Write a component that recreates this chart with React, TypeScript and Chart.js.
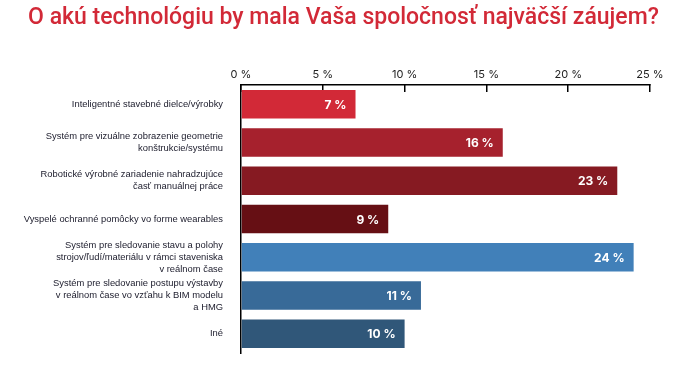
import React, { useEffect, useRef } from "react";
import { Chart, registerables } from "chart.js";

Chart.register(...registerables);

const titleText = "O akú technológiu by mala Vaša spoločnosť najväčší záujem?";
const categories: string[][] = [
  ["Inteligentné stavebné dielce/výrobky"],
  ["Systém pre vizuálne zobrazenie geometrie", "konštrukcie/systému"],
  ["Robotické výrobné zariadenie nahradzujúce", "časť manuálnej práce"],
  ["Vyspelé ochranné pomôcky vo forme wearables"],
  ["Systém pre sledovanie stavu a polohy", "strojov/ľudí/materiálu v rámci staveniska", "v reálnom čase"],
  ["Systém pre sledovanie postupu výstavby", "v reálnom čase vo vzťahu k BIM modelu", "a HMG"],
  ["Iné"],
];
const values = [7, 16, 23, 9, 24, 11, 10];
const barColors = ["#d22937", "#a6212d", "#861a22", "#660f14", "#4180b9", "#386a98", "#305779"];
const axisMax = 25;
const tickStep = 5;

const valueLabels = {
  id: "valueLabels",
  afterDatasetsDraw(chart: any) {
    const ctx = chart.ctx;
    const meta = chart.getDatasetMeta(0);
    ctx.save();
    ctx.fillStyle = "#ffffff";
    ctx.font = "700 12px Inter, 'Liberation Sans', sans-serif";
    ctx.textAlign = "right";
    ctx.textBaseline = "middle";
    meta.data.forEach((bar: any, i: number) => {
      ctx.fillText(values[i] + " %", bar.x - 9, bar.y + 1);
    });
    ctx.restore();
  },
};

const pageTitle = {
  id: "pageTitle",
  afterDraw(chart: any) {
    const ctx = chart.ctx;
    ctx.save();
    ctx.fillStyle = "#d22937";
    ctx.font = "500 23px Roboto, 'Liberation Sans', sans-serif";
    ctx.textAlign = "center";
    ctx.textBaseline = "middle";
    ctx.fillText(titleText, chart.width / 2, 18);
    ctx.restore();
  },
};

export default function App() {
  const ref = useRef<HTMLCanvasElement>(null);
  useEffect(() => {
    if (!ref.current) return;
    const chart = new Chart(ref.current, {
      type: "bar",
      data: {
        labels: categories,
        datasets: [
          {
            data: values,
            backgroundColor: barColors,
            borderWidth: 0,
            categoryPercentage: 1,
            barPercentage: 0.745,
          },
        ],
      },
      options: {
        indexAxis: "y",
        responsive: false,
        animation: false,
        layout: { padding: { left: 0, right: 37, top: 31.6, bottom: 16 } },
        plugins: {
          legend: { display: false },
          tooltip: { enabled: false },
          title: { display: false },
        },
        scales: {
          x: {
            position: "top",
            min: 0,
            max: axisMax,
            ticks: {
              stepSize: tickStep,
              callback: (v: any) => v + " %",
              color: "#222222",
              font: { family: "Inter, 'Liberation Sans', sans-serif", size: 11 },
              padding: 11,
            },
            grid: {
              display: true,
              drawOnChartArea: false,
              drawTicks: true,
              tickLength: -7,
              color: "#000000",
              lineWidth: 1.5,
            },
            border: { display: true, color: "#000000", width: 1.5 },
            afterFit: (scale: any) => {
              scale.height = 53.4;
            },
          },
          y: {
            ticks: {
              autoSkip: false,
              color: "#1b1b2b",
              font: { family: "'Liberation Sans', sans-serif", size: 9.4, lineHeight: 1.3 },
              padding: 18,
            },
            grid: { display: false, drawTicks: false },
            border: { display: true, color: "#000000", width: 1.5 },
            afterFit: (scale: any) => {
              scale.width = 241;
              scale.paddingTop = 0;
              scale.paddingBottom = 0;
            },
          },
        },
      },
      plugins: [valueLabels, pageTitle],
    });
    return () => chart.destroy();
  }, []);
  return (
    <div style={{ position: "fixed", left: 0, top: 0, width: 687, height: 369, background: "#ffffff" }}>
      <canvas ref={ref} width={687} height={369} />
    </div>
  );
}
